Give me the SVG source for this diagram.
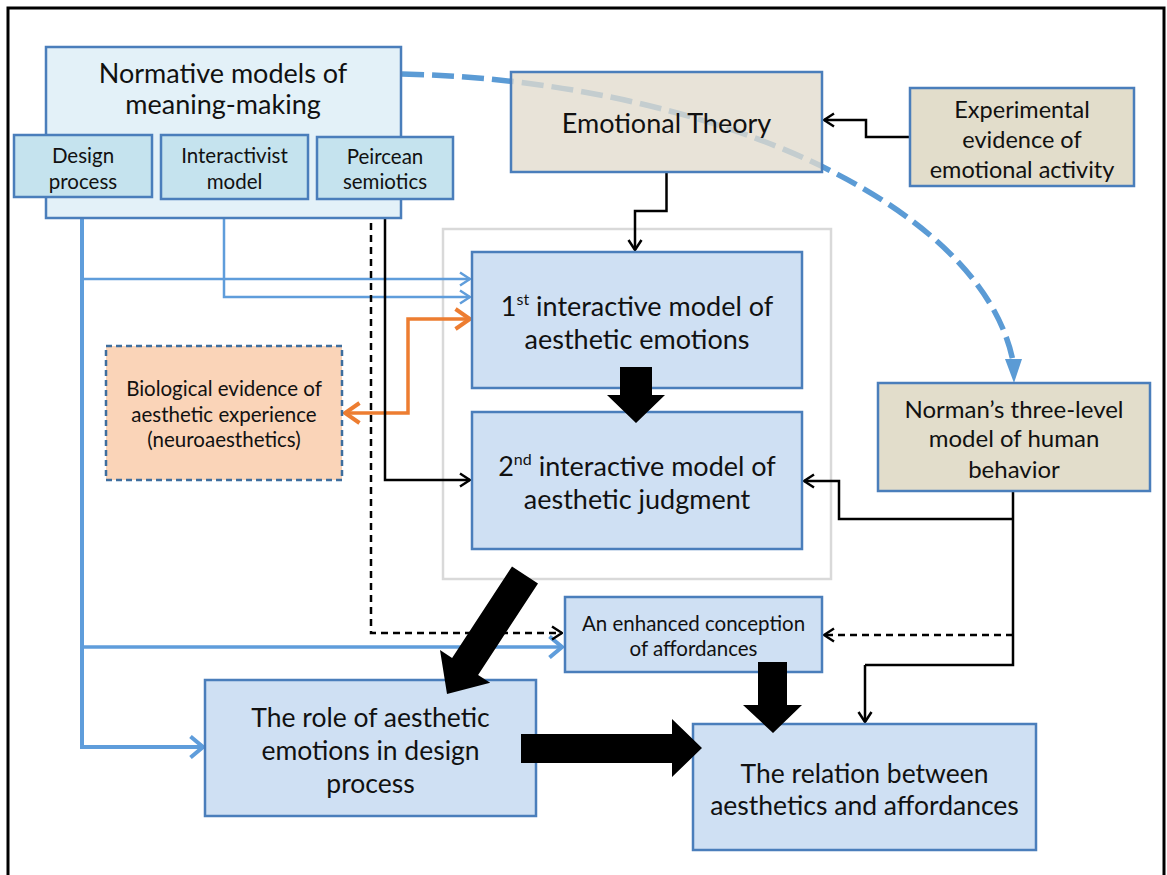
<svg xmlns="http://www.w3.org/2000/svg" width="1167" height="875" viewBox="0 0 1167 875">
  <defs>
    <style>
      text { font-family: Lato, "Open Sans", "Liberation Sans", sans-serif; fill: #111; text-anchor: middle; }
      .box { stroke: #4a7ebb; stroke-width: 2.5; }
      .blue { fill: #cfe0f3; }
      .norm { fill: #e3f1f8; }
      .sub { fill: #c5e3ee; }
      .tan { fill: #e2ddcb; }
      .ln { fill: none; stroke: #000; stroke-width: 2.5; }
      .dash { stroke-dasharray: 7 5; }
      .bl { fill: none; stroke: #5f9ddb; }
      .big { fill: #000; }
      .t27 { font-size: 27px; }
      .t26 { font-size: 26.5px; }
      .t24 { font-size: 24px; }
      .t23 { font-size: 23.5px; }
      .t20 { font-size: 20.5px; }
    </style>
    <marker id="ah" viewBox="0 0 12 16" markerWidth="12" markerHeight="16" refX="11" refY="8" orient="auto" markerUnits="userSpaceOnUse">
      <path d="M1,1.5 L11,8 L1,14.5" fill="none" stroke="#000" stroke-width="2.5"/>
    </marker>
    <marker id="ahB" viewBox="0 0 12 16" markerWidth="12" markerHeight="16" refX="11" refY="8" orient="auto" markerUnits="userSpaceOnUse">
      <path d="M1,1.5 L11,8 L1,14.5" fill="none" stroke="#5f9ddb" stroke-width="2.5"/>
    </marker>
    <marker id="ahB2" viewBox="0 0 16 24" markerWidth="16" markerHeight="24" refX="14" refY="12" orient="auto" markerUnits="userSpaceOnUse">
      <path d="M1.5,1.5 L14,12 L1.5,22.5" fill="none" stroke="#5f9ddb" stroke-width="4"/>
    </marker>
    <marker id="ahO" viewBox="0 0 18 24" markerWidth="18" markerHeight="24" refX="16" refY="12" orient="auto-start-reverse" markerUnits="userSpaceOnUse">
      <path d="M1.5,2 L16,12 L1.5,22" fill="none" stroke="#ed7d31" stroke-width="4"/>
    </marker>
  </defs>

  <!-- page -->
  <rect x="0" y="0" width="1167" height="875" fill="#fff"/>
  <rect x="8" y="8" width="1156" height="890" fill="none" stroke="#000" stroke-width="3"/>

  <!-- grouping frame around the two interactive models -->
  <rect id="model-frame" x="443" y="229" width="388" height="350" fill="none" stroke="#d9d9d9" stroke-width="2.5"/>

  <!-- influence curve from the normative models to Norman's model (behind Emotional Theory) -->
  <g id="curve">
    <path d="M402,74 C700,80 980,200 1013,361" fill="none" stroke="#5b9bd5" stroke-width="5.5" stroke-dasharray="22 8"/>
    <polygon points="1005,359 1022,359 1014,383" fill="#5b9bd5"/>
  </g>

  <g id="connectors">
    <!-- design process trunk -->
    <path class="bl" d="M82,197 V747 H203" stroke-width="4" marker-end="url(#ahB2)"/>
    <path class="bl" d="M82,279 H470" stroke-width="2.5" marker-end="url(#ahB)"/>
    <path class="bl" d="M82,647 H562" stroke-width="3.5" marker-end="url(#ahB2)"/>
    <!-- interactivist model -->
    <path class="bl" d="M224,199 V297 H470" stroke-width="2.5" marker-end="url(#ahB)"/>
    <!-- neuroaesthetics exchange -->
    <path d="M470,319 H408 V413 H345" fill="none" stroke="#ed7d31" stroke-width="3.5" marker-start="url(#ahO)" marker-end="url(#ahO)"/>
    <!-- Peircean semiotics -->
    <path class="ln dash" d="M371,199 V633 H562" marker-end="url(#ah)"/>
    <path class="ln" d="M385,199 V480 H470" marker-end="url(#ah)"/>
    <!-- emotional theory -->
    <path class="ln" d="M666.5,172 V211 H635 V250" marker-end="url(#ah)"/>
    <path class="ln" d="M910,137 H866 V120 H824" marker-end="url(#ah)"/>
    <!-- Norman's model -->
    <path class="ln" d="M1013,491 V665 H865"/>
    <path class="ln" d="M865,665 V722" stroke-width="1.8" marker-end="url(#ah)"/>
    <path class="ln" d="M1013,519 H839 V481 H804" marker-end="url(#ah)"/>
    <path class="ln dash" d="M1013,635 H824" marker-end="url(#ah)"/>
  </g>

  <g id="normative">
    <rect class="box norm" x="46" y="47" width="355" height="171"/>
    <text class="t27" x="223" y="83">Normative models of</text>
    <text class="t27" x="223" y="114">meaning-making</text>
  </g>
  <g id="design-process">
    <rect class="box sub" x="14" y="135" width="138" height="62"/>
    <text class="t20" x="83" y="163">Design</text>
    <text class="t20" x="83" y="189">process</text>
  </g>
  <g id="interactivist">
    <rect class="box sub" x="161" y="135" width="147" height="64"/>
    <text class="t20" x="234.5" y="163">Interactivist</text>
    <text class="t20" x="234.5" y="189">model</text>
  </g>
  <g id="peircean">
    <rect class="box sub" x="317" y="137" width="136" height="62"/>
    <text class="t20" x="385" y="164">Peircean</text>
    <text class="t20" x="385" y="189">semiotics</text>
  </g>

  <g id="emotional-theory">
    <rect class="box" x="511" y="72" width="311" height="100" fill="#e1dbcd" fill-opacity="0.78"/>
    <text class="t27" x="666.5" y="133">Emotional Theory</text>
  </g>
  <g id="experimental">
    <rect class="box tan" x="910" y="88" width="224" height="98"/>
    <text class="t23" x="1022" y="118">Experimental</text>
    <text class="t23" x="1022" y="148">evidence of</text>
    <text class="t23" x="1022" y="178">emotional activity</text>
  </g>

  <g id="model-1">
    <rect class="box blue" x="472" y="252" width="330" height="136"/>
    <text class="t27" x="637" y="316">1<tspan font-size="16" dy="-11">st</tspan><tspan dy="11"> interactive model of</tspan></text>
    <text class="t27" x="637" y="349">aesthetic emotions</text>
  </g>
  <g id="model-2">
    <rect class="box blue" x="472" y="412" width="330" height="137"/>
    <text class="t27" x="637" y="476">2<tspan font-size="16" dy="-11">nd</tspan><tspan dy="11"> interactive model of</tspan></text>
    <text class="t27" x="637" y="509">aesthetic judgment</text>
  </g>

  <g id="neuroaesthetics">
    <rect x="106" y="346" width="236" height="134" fill="#fad4b8" stroke="#3e6e9e" stroke-width="2.5" stroke-dasharray="6 4"/>
    <text class="t20" x="224" y="396">Biological evidence of</text>
    <text class="t20" x="224" y="422">aesthetic experience</text>
    <text class="t20" x="224" y="447">(neuroaesthetics)</text>
  </g>

  <g id="norman">
    <rect class="box tan" x="878" y="383" width="272" height="108"/>
    <text class="t24" x="1014" y="418">Norman’s three-level</text>
    <text class="t24" x="1014" y="447">model of human</text>
    <text class="t24" x="1014" y="478">behavior</text>
  </g>

  <g id="affordances">
    <rect class="box blue" x="565" y="597" width="257" height="75"/>
    <text class="t20" x="693.5" y="631">An enhanced conception</text>
    <text class="t20" x="693.5" y="656">of affordances</text>
  </g>

  <g id="role">
    <rect class="box blue" x="205" y="680" width="331" height="136"/>
    <text class="t26" x="370.5" y="727">The role of aesthetic</text>
    <text class="t26" x="370.5" y="760">emotions in design</text>
    <text class="t26" x="370.5" y="793">process</text>
  </g>

  <g id="relation">
    <rect class="box blue" x="693" y="724" width="343" height="126"/>
    <text class="t26" x="864.5" y="783">The relation between</text>
    <text class="t26" x="864.5" y="815">aesthetics and affordances</text>
  </g>

  <!-- thick block arrows, drawn over the boxes they join -->
  <g id="block-arrows">
    <polygon class="big" points="620,367 652,367 652,395 665,395 636,423 607,395 620,395"/>
    <polygon class="big" points="512,566.5 538,583.5 478.1,674.9 490.2,682.8 447,694 440,650 452.1,657.9"/>
    <polygon class="big" points="521,734 672,734 672,719 702,748 672,777 672,763 521,763"/>
    <polygon class="big" points="758,662 787,662 787,705 802,705 773,733 743,705 758,705"/>
  </g>
</svg>
